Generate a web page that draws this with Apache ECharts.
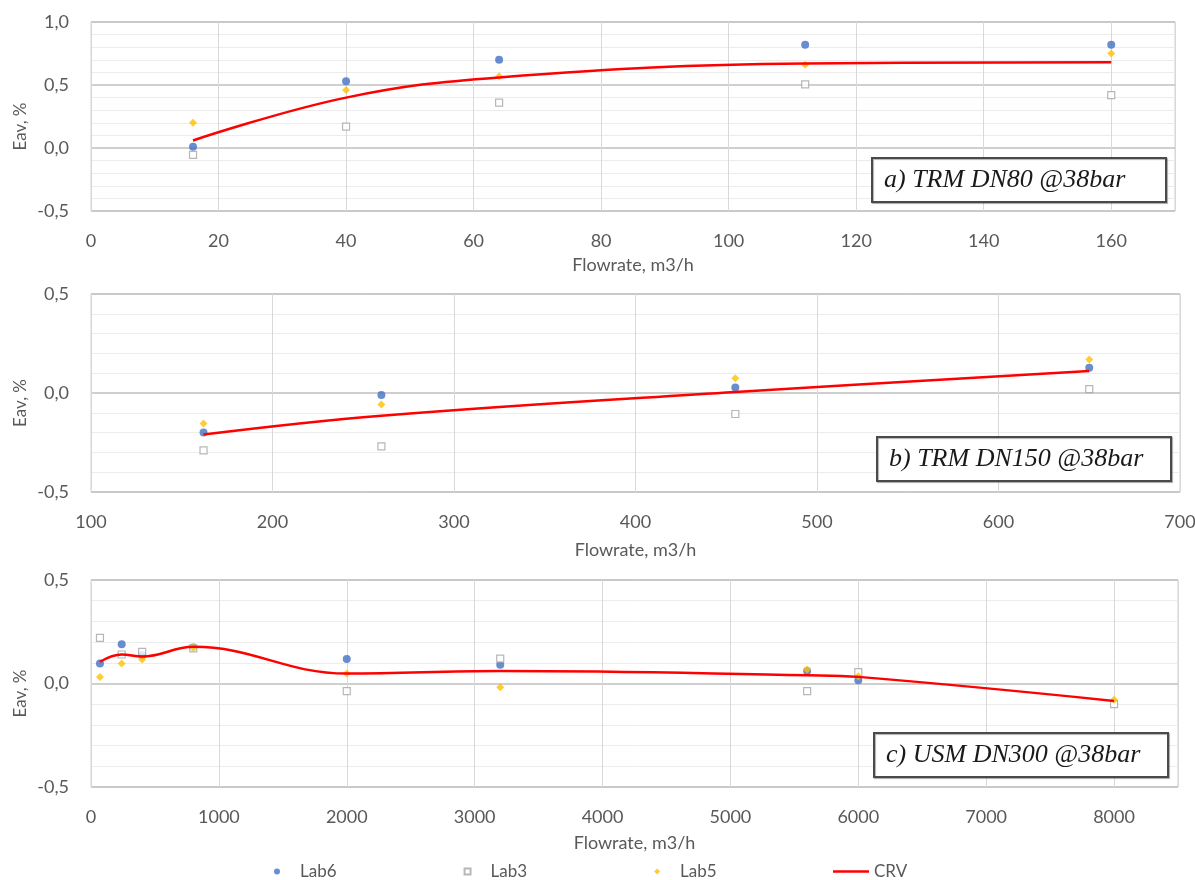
<!DOCTYPE html>
<html>
<head>
<meta charset="utf-8">
<script src="https://cdn.jsdelivr.net/npm/echarts@6/dist/echarts.min.js"></script>
<style>
html,body{margin:0;padding:0;background:#fff;}
#chart{width:1195px;height:880px;}
</style>
</head>
<body>
<div id="chart"></div>
<script>
// ---- data ----
var seriesNames = ['Lab6', 'Lab3', 'Lab5', 'CRV'];
var panelTitles = ['a) TRM DN80 @38bar', 'b) TRM DN150 @38bar', 'c) USM DN300 @38bar'];

var topX     = [16, 40, 64, 112, 160];
var topLab6  = [0.01, 0.53, 0.70, 0.82, 0.82];
var topLab3  = [-0.055, 0.17, 0.36, 0.505, 0.42];
var topLab5  = [0.20, 0.46, 0.57, 0.66, 0.75];
var topCRV   = [0.06, 0.40, 0.56, 0.67, 0.68];

var midX     = [162, 260, 455, 650];
var midLab6  = [-0.20, -0.01, 0.028, 0.128];
var midLab3  = [-0.29, -0.27, -0.106, 0.02];
var midLab5  = [-0.154, -0.058, 0.074, 0.169];
var midCRV   = [-0.21, -0.115, 0.005, 0.111];

var botX     = [70, 240, 400, 800, 2000, 3200, 5600, 6000, 8000];
var botLab6  = [0.097, 0.19, 0.137, 0.174, 0.118, 0.09, 0.06, 0.016, null];
var botLab3  = [0.22, 0.14, 0.153, 0.17, -0.037, 0.12, -0.037, 0.055, -0.10];
var botLab5  = [0.032, 0.097, 0.116, 0.174, 0.048, -0.018, 0.068, 0.035, -0.078];
var botCRV   = [0.105, 0.14, 0.13, 0.177, 0.048, 0.06, 0.04, 0.032, -0.084];

var xRanges = [[0, 170, 20], [100, 700, 100], [0, 8500, 1000]];
var yRanges = [[-0.5, 1.0, 0.5], [-0.5, 0.5, 0.5], [-0.5, 0.5, 0.5]];

// ---- build ----
function zip(xs, ys) {
  var out = [];
  for (var i = 0; i < xs.length; i++) { if (ys[i] !== null) out.push([xs[i], ys[i]]); }
  return out;
}
var panels = [
  {x: topX, lab6: topLab6, lab3: topLab3, lab5: topLab5, crv: topCRV},
  {x: midX, lab6: midLab6, lab3: midLab3, lab5: midLab5, crv: midCRV},
  {x: botX, lab6: botLab6, lab3: botLab3, lab5: botLab5, crv: botCRV}
];
var grids = [
  {left: 91, right: 20, top: 22, height: 189},
  {left: 91, right: 15, top: 294, height: 198},
  {left: 91, right: 17, top: 580, height: 207}
];
var xNameGaps = [45, 49, 47];
var titleTops = [158, 437, 733];
var titleRights = [29, 24, 27];
var FONT = 'Lato, "Open Sans", sans-serif';
var GRAY = '#595959';
var legendText = {color: GRAY, fontSize: 17, fontFamily: FONT};

var option = {
  backgroundColor: '#ffffff',
  animation: false,
  textStyle: {fontFamily: FONT},
  grid: grids.map(function (g) {
    return {left: g.left, right: g.right, top: g.top, height: g.height, show: true,
            borderColor: '#d0d0d0', borderWidth: 1, backgroundColor: 'transparent', containLabel: false, outerBoundsMode: 'none'};
  }),
  title: panelTitles.map(function (t, i) {
    return {text: t, right: titleRights[i], top: titleTops[i], borderColor: '#4a4a4a', borderWidth: 2,
            padding: [8, 12, 8, 12], backgroundColor: '#fff',
            shadowColor: 'rgba(0,0,0,0.3)', shadowOffsetX: 1, shadowOffsetY: 1, shadowBlur: 1,
            textStyle: {fontFamily: '"Liberation Serif", "Times New Roman", serif', fontStyle: 'italic',
                        fontWeight: 'normal', fontSize: 26, lineHeight: 28, width: 270, color: '#1a1a1a'}};
  }),
  legend: [
    {
      data: [
        {name: seriesNames[0], icon: 'circle'},
        {name: seriesNames[1], icon: 'path://M0,0L10,0L10,10L0,10Z'},
        {name: seriesNames[2], icon: 'path://M5,0L10,5L5,10L0,5Z'}
      ],
      left: 269, top: 858, itemWidth: 36, itemHeight: 6, itemGap: 127, textStyle: legendText
    },
    {
      data: [{name: seriesNames[3], icon: 'path://M0,0L36,0L36,2.5L0,2.5Z'}],
      left: 828, top: 858, itemWidth: 36, itemHeight: 6, textStyle: legendText
    }
  ],
  xAxis: xRanges.map(function (r, i) {
    return {type: 'value', gridIndex: i, min: r[0], max: r[1], interval: r[2],
            name: 'Flowrate, m3/h', nameLocation: 'middle', nameGap: xNameGaps[i],
            nameTextStyle: {color: GRAY, fontSize: 18, fontFamily: FONT},
            axisLine: {show: false}, axisTick: {show: false},
            axisLabel: {color: GRAY, fontSize: 18, margin: 21, showMaxLabel: i === 1, fontFamily: FONT,
                        formatter: function (v) { return String(v); }},
            splitLine: {show: true, lineStyle: {color: '#d9d9d9', width: 1}}};
  }),
  yAxis: yRanges.map(function (r, i) {
    return {type: 'value', gridIndex: i, min: r[0], max: r[1], interval: r[2],
            name: 'Eav, %', nameLocation: 'middle', nameGap: 62, nameMoveOverlap: false,
            nameTextStyle: {color: GRAY, fontSize: 17, fontFamily: FONT, padding: [0, 20, 0, 0]},
            axisLine: {show: false}, axisTick: {show: false},
            axisLabel: {color: GRAY, fontSize: 18, margin: 22, fontFamily: FONT,
                        formatter: function (v) { return v.toFixed(1).replace('.', ','); }},
            minorTick: {show: false, splitNumber: 5},
            minorSplitLine: {show: true, lineStyle: {color: '#ececec', width: 1}},
            splitLine: {show: true, lineStyle: {color: '#bfbfbf', width: 1.5}}};
  }),
  series: []
};

panels.forEach(function (p, i) {
  option.series.push({name: 'Lab6', type: 'scatter', xAxisIndex: i, yAxisIndex: i, data: zip(p.x, p.lab6),
    symbol: 'circle', symbolSize: 8, itemStyle: {color: '#4472C4'}, z: 3});
  option.series.push({name: 'Lab3', type: 'scatter', xAxisIndex: i, yAxisIndex: i, data: zip(p.x, p.lab3),
    symbol: 'rect', symbolSize: 7, itemStyle: {color: '#ffffff', borderColor: '#a5a5a5', borderWidth: 1.2}, z: 3});
  option.series.push({name: 'Lab5', type: 'scatter', xAxisIndex: i, yAxisIndex: i, data: zip(p.x, p.lab5),
    symbol: 'diamond', symbolSize: 8, itemStyle: {color: '#FFC000'}, z: 4});
  option.series.push({name: 'CRV', type: 'line', xAxisIndex: i, yAxisIndex: i, data: zip(p.x, p.crv),
    smooth: 0.4, showSymbol: false, symbol: 'none', lineStyle: {color: '#FF0000', width: 2.5}, itemStyle: {color: '#FF0000'}, z: 5});
});

var chart = echarts.init(document.getElementById('chart'), null, {renderer: 'canvas'});
chart.setOption(option);
</script>
</body>
</html>
